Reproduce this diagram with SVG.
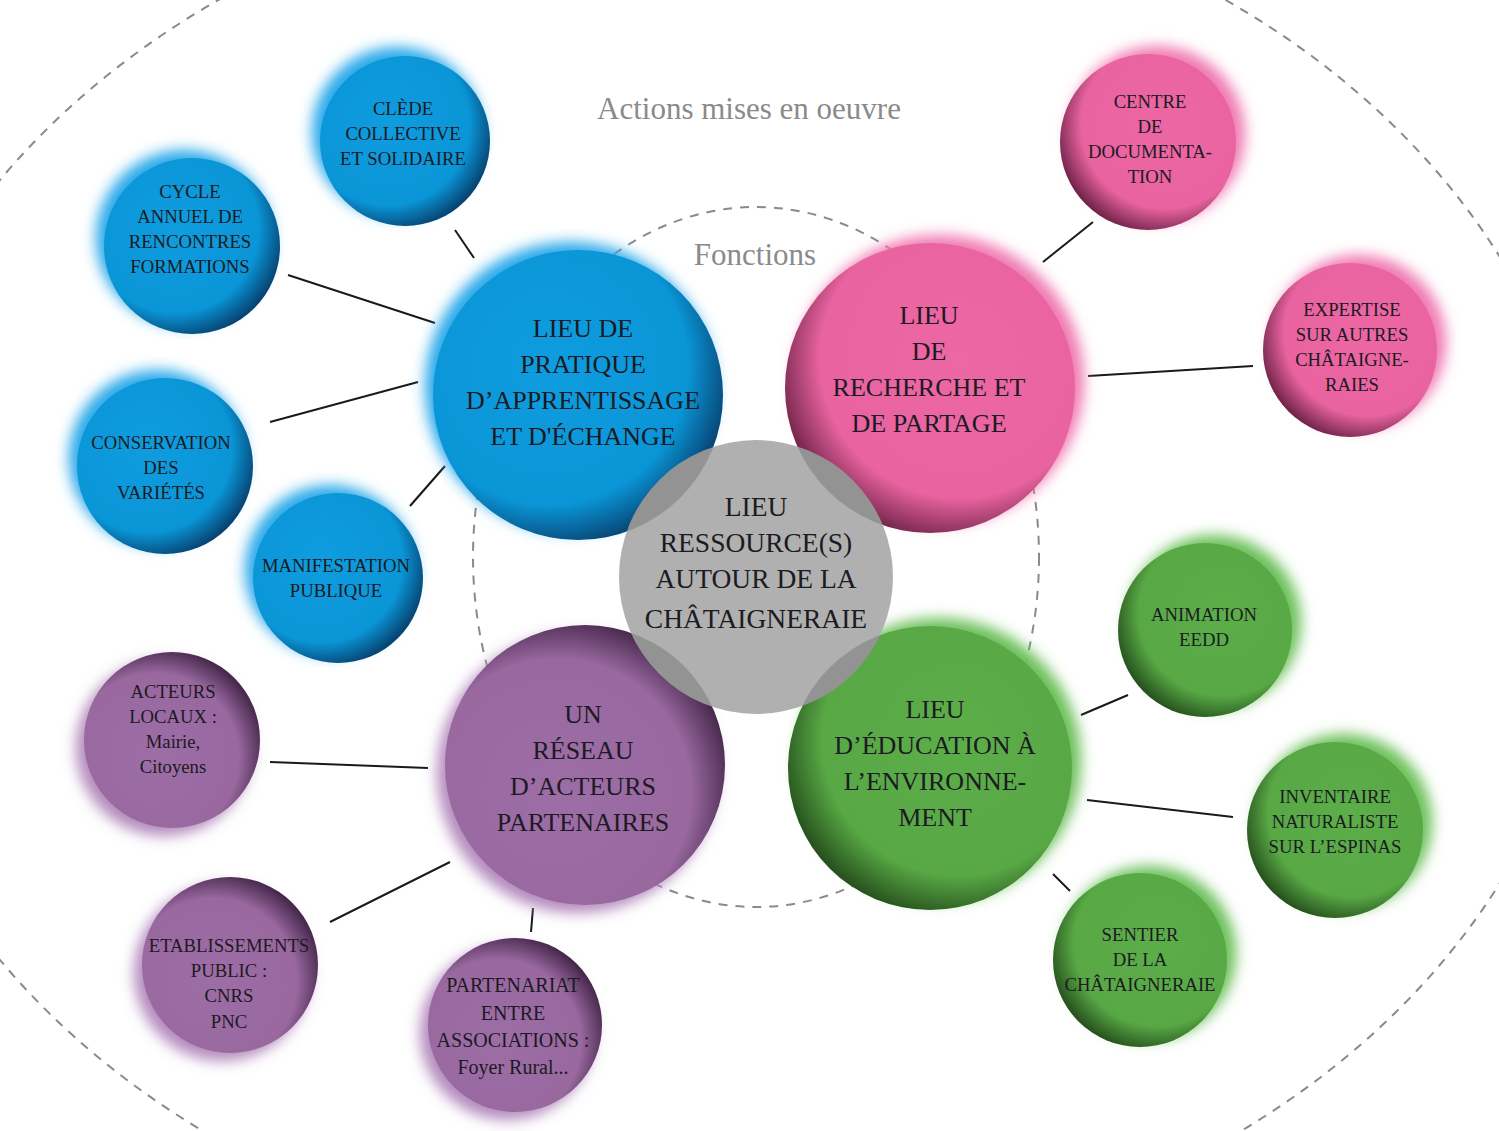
<svg xmlns="http://www.w3.org/2000/svg" width="1499" height="1131" viewBox="0 0 1499 1131">
<defs>
<style>
.t{font-family:"Liberation Serif","Times New Roman",serif;text-anchor:middle;fill:#1c1a22}
.big{font-size:26px}
.mid{font-size:27.5px}
.sm{font-size:18.7px}
.ttl{font-family:"Liberation Serif","Times New Roman",serif;fill:#8a8a8a;text-anchor:middle}
.dash{fill:none;stroke:#8a8a8a;stroke-width:2;stroke-dasharray:9 8}
.ln{stroke:#1a1a1a;stroke-width:2;fill:none}
.gl{filter:url(#glow)}
.ov{fill:#000;fill-opacity:0.16}
</style>
<filter id="glow" x="-40%" y="-40%" width="180%" height="180%"><feGaussianBlur stdDeviation="7"/></filter>
<radialGradient id="gBlue" cx="0.4" cy="0.4" r="0.64"><stop offset="0" stop-color="#0f9de0"/><stop offset="0.75" stop-color="#0a95d6"/><stop offset="1" stop-color="#07406e"/></radialGradient>
<radialGradient id="gPink" cx="0.6" cy="0.4" r="0.64"><stop offset="0" stop-color="#ec67a3"/><stop offset="0.75" stop-color="#e8639f"/><stop offset="1" stop-color="#6e2248"/></radialGradient>
<radialGradient id="gGreen" cx="0.6" cy="0.4" r="0.64"><stop offset="0" stop-color="#5cae49"/><stop offset="0.75" stop-color="#58a845"/><stop offset="1" stop-color="#254f1c"/></radialGradient>
<radialGradient id="gPurple" cx="0.4" cy="0.6" r="0.64"><stop offset="0" stop-color="#9d6da6"/><stop offset="0.75" stop-color="#98689f"/><stop offset="1" stop-color="#432548"/></radialGradient>
<clipPath id="cBlue"><circle cx="578" cy="395" r="145"/></clipPath>
<clipPath id="cPink"><circle cx="930" cy="388" r="145"/></clipPath>
<clipPath id="cGreen"><circle cx="930" cy="768" r="142"/></clipPath>
<clipPath id="cPurple"><circle cx="585" cy="765" r="140"/></clipPath>
</defs>
<rect width="1499" height="1131" fill="#ffffff"/>

<g id="frames">
<ellipse class="dash" cx="722" cy="570" rx="870" ry="699"/>
<ellipse class="dash" cx="756" cy="557" rx="283" ry="350"/>
<text class="ttl" x="749" y="119" font-size="31">Actions mises en oeuvre</text>
<text class="ttl" x="755" y="265" font-size="31">Fonctions</text>
</g>

<g id="connectors">
<line class="ln" x1="455" y1="230" x2="474" y2="258"/>
<line class="ln" x1="288" y1="275" x2="435" y2="323"/>
<line class="ln" x1="270" y1="422" x2="418" y2="382"/>
<line class="ln" x1="410" y1="506" x2="445" y2="466"/>
<line class="ln" x1="1093" y1="222" x2="1043" y2="262"/>
<line class="ln" x1="1088" y1="376" x2="1253" y2="366"/>
<line class="ln" x1="1081" y1="715" x2="1128" y2="695"/>
<line class="ln" x1="1087" y1="800" x2="1233" y2="817"/>
<line class="ln" x1="1053" y1="874" x2="1070" y2="891"/>
<line class="ln" x1="270" y1="762" x2="428" y2="768"/>
<line class="ln" x1="330" y1="922" x2="450" y2="862"/>
<line class="ln" x1="533" y1="908" x2="531" y2="932"/>
</g>

<!-- blue -->
<g id="clede">
<circle class="gl" cx="397" cy="132" r="85" fill="#2aa9ea"/>
<circle cx="405" cy="141" r="85" fill="url(#gBlue)"/>
<text class="t sm"><tspan x="403" y="115">CLÈDE</tspan><tspan x="403" y="140">COLLECTIVE</tspan><tspan x="403" y="165">ET SOLIDAIRE</tspan></text>
</g>
<g id="cycle">
<circle class="gl" cx="184" cy="238" r="88" fill="#2aa9ea"/>
<circle cx="192" cy="246" r="88" fill="url(#gBlue)"/>
<text class="t sm"><tspan x="190" y="198">CYCLE</tspan><tspan x="190" y="223">ANNUEL DE</tspan><tspan x="190" y="248">RENCONTRES</tspan><tspan x="190" y="273">FORMATIONS</tspan></text>
</g>
<g id="conservation">
<circle class="gl" cx="157" cy="458" r="88" fill="#2aa9ea"/>
<circle cx="165" cy="466" r="88" fill="url(#gBlue)"/>
<text class="t sm"><tspan x="161" y="449">CONSERVATION</tspan><tspan x="161" y="474">DES</tspan><tspan x="161" y="499">VARIÉTÉS</tspan></text>
</g>
<g id="manifestation">
<circle class="gl" cx="330" cy="570" r="85" fill="#2aa9ea"/>
<circle cx="338" cy="578" r="85" fill="url(#gBlue)"/>
<text class="t sm"><tspan x="336" y="572">MANIFESTATION</tspan><tspan x="336" y="597">PUBLIQUE</tspan></text>
</g>
<g id="pratique">
<circle class="gl" cx="570" cy="387" r="145" fill="#2aa9ea"/>
<circle cx="578" cy="395" r="145" fill="url(#gBlue)"/>
<text class="t big"><tspan x="583" y="337">LIEU DE</tspan><tspan x="583" y="373">PRATIQUE</tspan><tspan x="583" y="409">D’APPRENTISSAGE</tspan><tspan x="583" y="445">ET D'ÉCHANGE</tspan></text>
</g>

<!-- pink -->
<g id="documentation">
<circle class="gl" cx="1157" cy="134" r="88" fill="#f07ab2"/>
<circle cx="1148" cy="142" r="88" fill="url(#gPink)"/>
<text class="t sm"><tspan x="1150" y="108">CENTRE</tspan><tspan x="1150" y="133">DE</tspan><tspan x="1150" y="158">DOCUMENTA-</tspan><tspan x="1150" y="183">TION</tspan></text>
</g>
<g id="expertise">
<circle class="gl" cx="1359" cy="342" r="87" fill="#f07ab2"/>
<circle cx="1350" cy="350" r="87" fill="url(#gPink)"/>
<text class="t sm"><tspan x="1352" y="316">EXPERTISE</tspan><tspan x="1352" y="341">SUR AUTRES</tspan><tspan x="1352" y="366">CHÂTAIGNE-</tspan><tspan x="1352" y="391">RAIES</tspan></text>
</g>
<g id="recherche">
<circle class="gl" cx="939" cy="380" r="145" fill="#f07ab2"/>
<circle cx="930" cy="388" r="145" fill="url(#gPink)"/>
<text class="t big"><tspan x="929" y="324">LIEU</tspan><tspan x="929" y="360">DE</tspan><tspan x="929" y="396">RECHERCHE ET</tspan><tspan x="929" y="432">DE PARTAGE</tspan></text>
</g>

<!-- green -->
<g id="animation">
<circle class="gl" cx="1214" cy="622" r="87" fill="#6cc05a"/>
<circle cx="1205" cy="630" r="87" fill="url(#gGreen)"/>
<text class="t sm"><tspan x="1204" y="621">ANIMATION</tspan><tspan x="1204" y="646">EEDD</tspan></text>
</g>
<g id="inventaire">
<circle class="gl" cx="1344" cy="822" r="88" fill="#6cc05a"/>
<circle cx="1335" cy="830" r="88" fill="url(#gGreen)"/>
<text class="t sm"><tspan x="1335" y="803">INVENTAIRE</tspan><tspan x="1335" y="828">NATURALISTE</tspan><tspan x="1335" y="853">SUR L’ESPINAS</tspan></text>
</g>
<g id="sentier">
<circle class="gl" cx="1149" cy="953" r="87" fill="#6cc05a"/>
<circle cx="1140" cy="960" r="87" fill="url(#gGreen)"/>
<text class="t sm"><tspan x="1140" y="941">SENTIER</tspan><tspan x="1140" y="966">DE LA</tspan><tspan x="1140" y="991">CHÂTAIGNERAIE</tspan></text>
</g>
<g id="education">
<circle class="gl" cx="939" cy="760" r="142" fill="#6cc05a"/>
<circle cx="930" cy="768" r="142" fill="url(#gGreen)"/>
<text class="t big"><tspan x="935" y="718">LIEU</tspan><tspan x="935" y="754">D’ÉDUCATION À</tspan><tspan x="935" y="790">L’ENVIRONNE-</tspan><tspan x="935" y="826">MENT</tspan></text>
</g>

<!-- purple -->
<g id="acteurs-locaux">
<circle class="gl" cx="164" cy="748" r="88" fill="#b48bbd"/>
<circle cx="172" cy="740" r="88" fill="url(#gPurple)"/>
<text class="t sm"><tspan x="173" y="698">ACTEURS</tspan><tspan x="173" y="723">LOCAUX :</tspan><tspan x="173" y="748">Mairie,</tspan><tspan x="173" y="773">Citoyens</tspan></text>
</g>
<g id="etablissements">
<circle class="gl" cx="222" cy="973" r="88" fill="#b48bbd"/>
<circle cx="230" cy="965" r="88" fill="url(#gPurple)"/>
<text class="t sm"><tspan x="229" y="952">ETABLISSEMENTS</tspan><tspan x="229" y="977">PUBLIC :</tspan><tspan x="229" y="1002">CNRS</tspan><tspan x="229" y="1028">PNC</tspan></text>
</g>
<g id="partenariat">
<circle class="gl" cx="507" cy="1033" r="87" fill="#b48bbd"/>
<circle cx="515" cy="1025" r="87" fill="url(#gPurple)"/>
<text class="t" font-size="20"><tspan x="513" y="992">PARTENARIAT</tspan><tspan x="513" y="1020">ENTRE</tspan><tspan x="513" y="1047">ASSOCIATIONS :</tspan><tspan x="513" y="1074">Foyer Rural...</tspan></text>
</g>
<g id="reseau">
<circle class="gl" cx="577" cy="773" r="140" fill="#b48bbd"/>
<circle cx="585" cy="765" r="140" fill="url(#gPurple)"/>
<text class="t big"><tspan x="583" y="723">UN</tspan><tspan x="583" y="759">RÉSEAU</tspan><tspan x="583" y="795">D’ACTEURS</tspan><tspan x="583" y="831">PARTENAIRES</tspan></text>
</g>

<!-- center -->
<g id="ressources">
<circle cx="756" cy="577" r="137" fill="#b0b0b0"/>
<circle class="ov" cx="756" cy="577" r="137" clip-path="url(#cBlue)"/>
<circle class="ov" cx="756" cy="577" r="137" clip-path="url(#cPink)"/>
<circle class="ov" cx="756" cy="577" r="137" clip-path="url(#cGreen)"/>
<circle class="ov" cx="756" cy="577" r="137" clip-path="url(#cPurple)"/>
<text class="t mid"><tspan x="756" y="516">LIEU</tspan><tspan x="756" y="552">RESSOURCE(S)</tspan><tspan x="756" y="588">AUTOUR DE LA</tspan><tspan x="756" y="628">CHÂTAIGNERAIE</tspan></text>
</g>
</svg>
